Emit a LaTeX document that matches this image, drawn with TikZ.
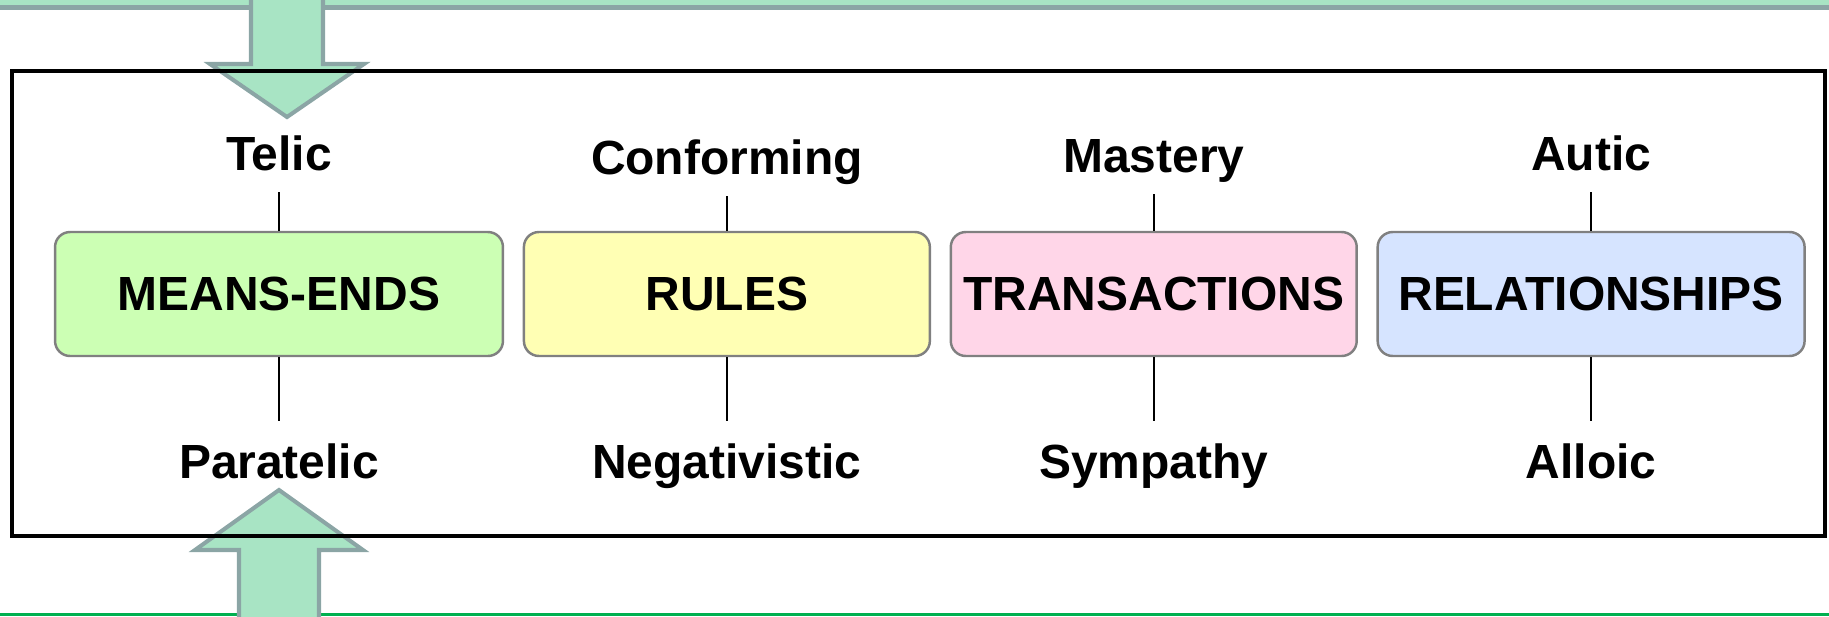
\documentclass[tikz,border=0pt]{standalone}
\usepackage{fontspec}
\setmainfont{Liberation Sans}
\usetikzlibrary{positioning}
\definecolor{meansgreen}{RGB}{204,255,180}
\definecolor{rulesyellow}{RGB}{255,255,180}
\definecolor{transpink}{RGB}{255,214,232}
\definecolor{relblue}{RGB}{214,228,255}
\definecolor{boxgray}{RGB}{128,128,128}
\definecolor{arrowfill}{RGB}{168,228,196}
\definecolor{arrowline}{RGB}{139,165,165}
\definecolor{basegreen}{RGB}{0,176,80}

\begin{document}
\begin{tikzpicture}[x=0.02cm,y=-0.02cm,node distance=0.37cm,
    box/.style={rectangle,draw=boxgray,line width=1.4pt,rounded corners=0.3cm,minimum height=2.48cm,inner sep=0pt,font=\fontsize{27.3}{32}\selectfont\bfseries},
    pole/.style={inner xsep=0pt,inner ysep=0.42cm,text height=0.72cm,text depth=0pt,font=\fontsize{27.3}{32}\selectfont\bfseries},
    tie/.style={line width=1.1pt},
    bigarrow/.style={fill=arrowfill,draw=arrowline,line width=2.3pt}]
    \useasboundingbox (0,0) rectangle (1829,616);

    % Bands and arrows
    \draw[fill=arrowfill,draw=arrowline,line width=0.1cm] (-20,-40) rectangle (1850,7.5);
    \draw[draw=basegreen,line width=0.07cm] (-20,614.5) -- (1850,614.5);
    \draw[bigarrow] (251,-10) -- (251,64) -- (210,64) -- (287,117) -- (364,64) -- (323,64) -- (323,-10) -- cycle;
    \draw[bigarrow] (239,640) -- (239,550) -- (195,550) -- (279,490) -- (363,550) -- (319,550) -- (319,640) -- cycle;

    % Frame
    \draw[line width=1.8pt] (12,71) rectangle (1825,536);

    % Orientations
    \node[box,fill=meansgreen,minimum width=8.96cm] (means) at (279,294) {MEANS-ENDS};
    \node[box,fill=rulesyellow,minimum width=8.12cm,right=of means] (rules) {RULES};
    \node[box,fill=transpink,minimum width=8.12cm,right=of rules] (trans) {TRANSACTIONS};
    \node[box,fill=relblue,minimum width=8.54cm,right=of trans] (rel) {RELATIONSHIPS};

    % Poles
    \node[pole,above=0.78cm of means] (telic) {Telic};
    \node[pole,above=0.7cm of rules] (conf) {Conforming};
    \node[pole,above=0.74cm of trans] (mast) {Mastery};
    \node[pole,above=0.78cm of rel] (autic) {Autic};
    \node[pole,below=1.28cm of means] (para) {Paratelic};
    \node[pole,below=1.28cm of rules] (nega) {Negativistic};
    \node[pole,below=1.28cm of trans] (symp) {Sympathy};
    \node[pole,below=1.28cm of rel] (alloic) {Alloic};

    % Ties
    \draw[tie] (means.north) -- (telic.south);
    \draw[tie] (rules.north) -- (conf.south);
    \draw[tie] (trans.north) -- (mast.south);
    \draw[tie] (rel.north) -- (autic.south);
    \draw[tie] (means.south) -- (para.north);
    \draw[tie] (rules.south) -- (nega.north);
    \draw[tie] (trans.south) -- (symp.north);
    \draw[tie] (rel.south) -- (alloic.north);
\end{tikzpicture}
\end{document}
